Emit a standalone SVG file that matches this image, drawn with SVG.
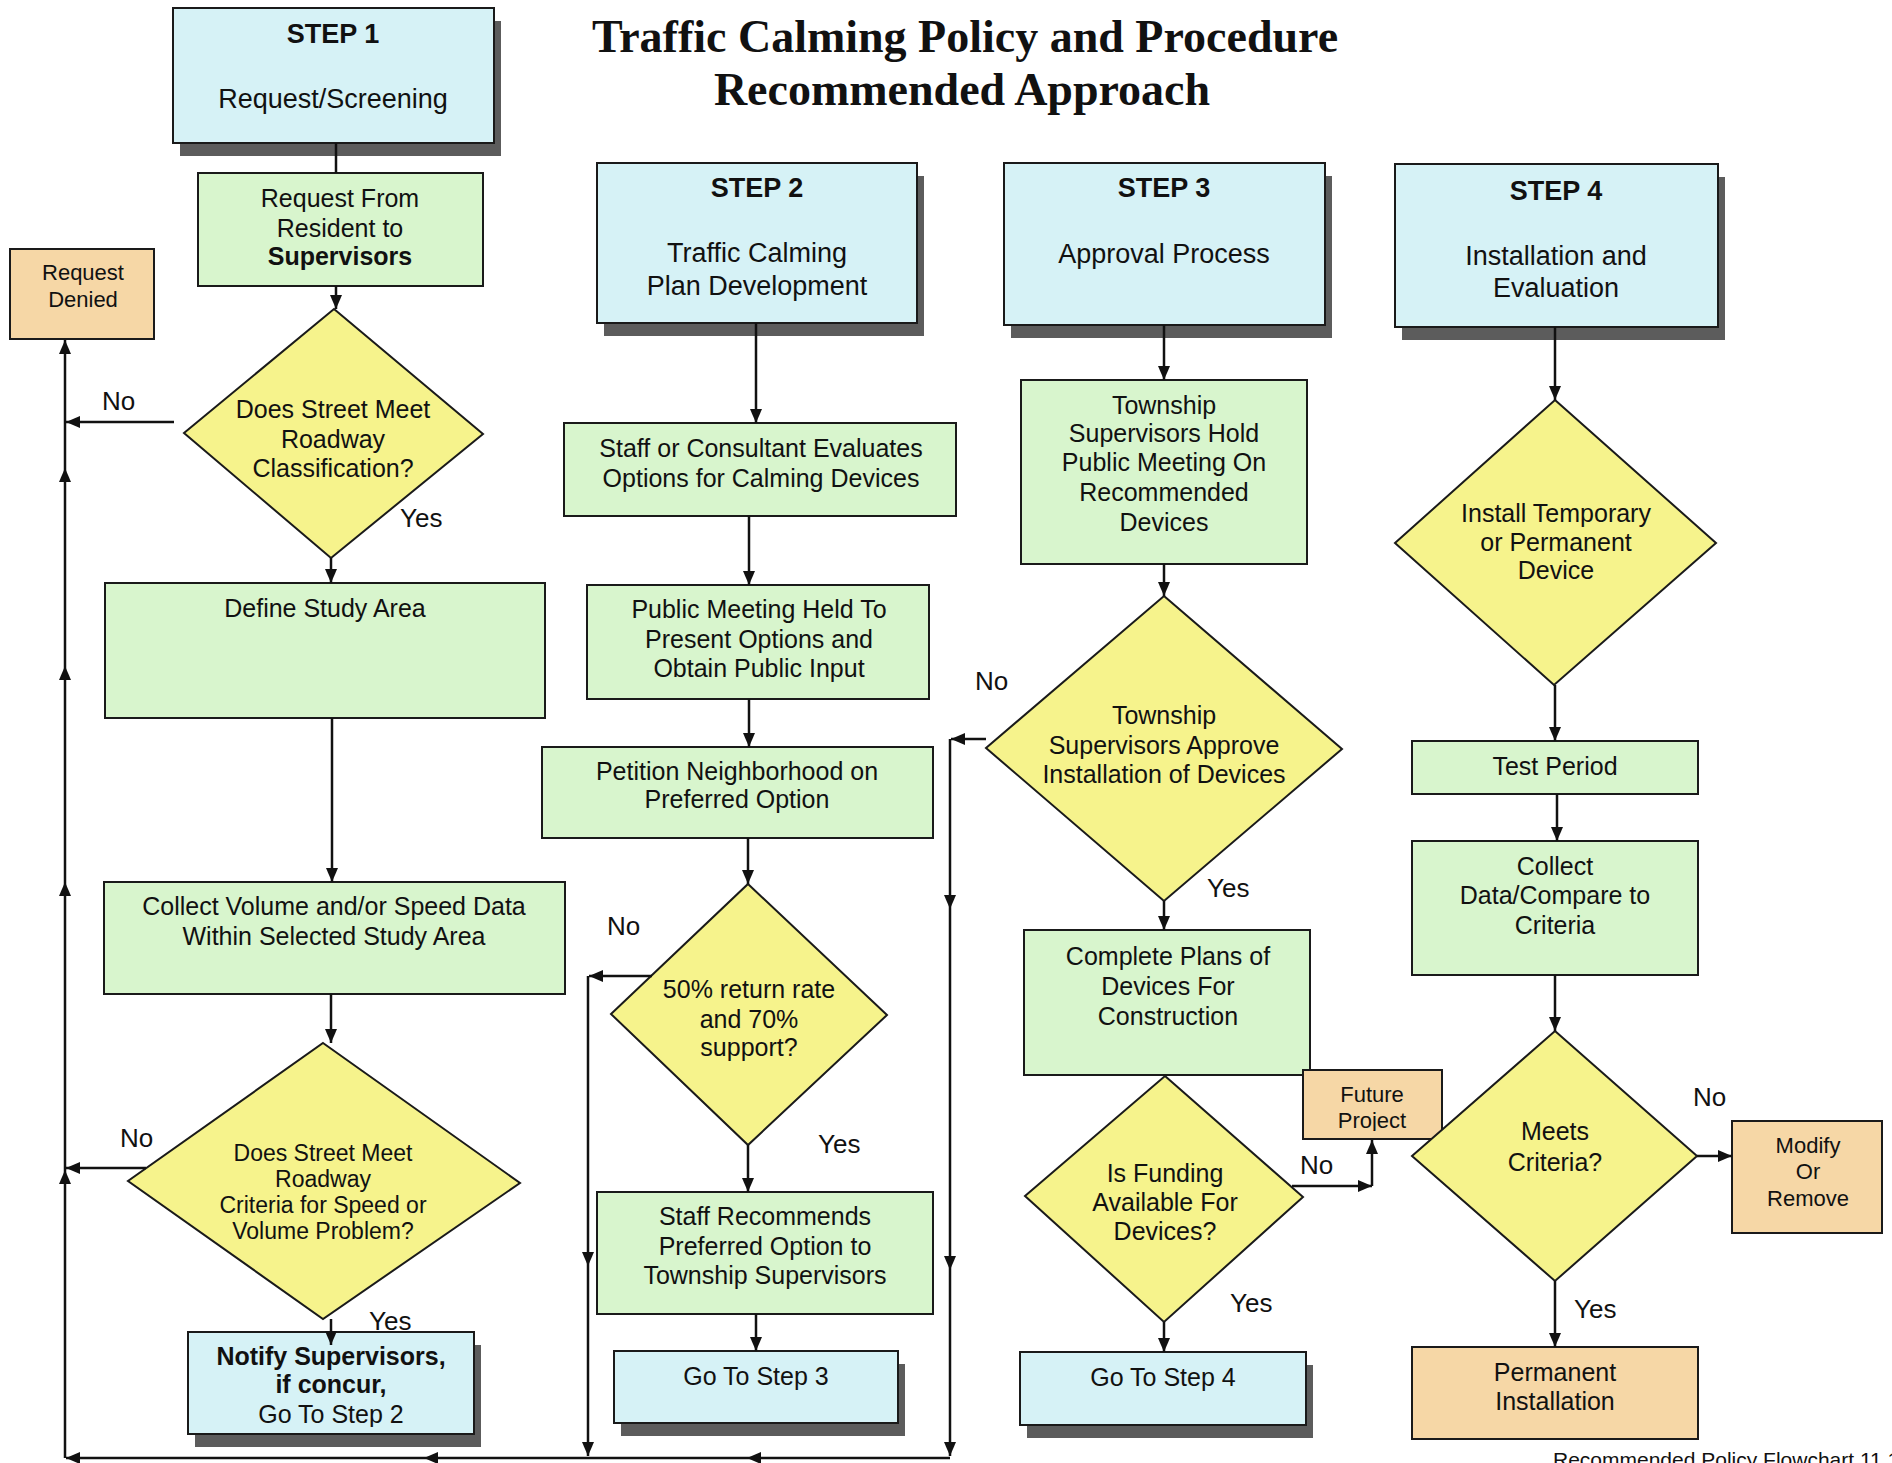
<svg xmlns="http://www.w3.org/2000/svg" width="1892" height="1463" viewBox="0 0 1892 1463">
<style>
text{font-family:"Liberation Sans",Arial,sans-serif;fill:#111;text-anchor:middle}
.t{font-size:25px}
.s{font-size:27px}
.b{font-weight:bold}
.sm{font-size:22px}
.d2{font-size:23px}
.lab{font-size:26px;text-anchor:start}
.title{font-family:"Liberation Serif","Times New Roman",serif;font-weight:bold;font-size:46px}
.step{fill:#d6f2f6;stroke:#1a1a1a;stroke-width:2}
.grn{fill:#d8f5cd;stroke:#1a1a1a;stroke-width:2}
.org{fill:#f6d7a6;stroke:#1a1a1a;stroke-width:2}
.dia{fill:#f6f38c;stroke:#1a1a1a;stroke-width:2}
.sh{fill:#5c5c5c}
.c{fill:none;stroke:#111;stroke-width:2.5}
.ca{fill:none;stroke:#111;stroke-width:2.5;marker-end:url(#ah)}
</style>
<defs>
<marker id="ah" viewBox="0 0 14 12" refX="14" refY="6" markerWidth="14" markerHeight="12" markerUnits="userSpaceOnUse" orient="auto">
<path d="M0,0 L14,6 L0,12 z" fill="#111"/>
</marker>
<clipPath id="clipNotify"><rect x="180" y="1330" width="300" height="97"/></clipPath>
<clipPath id="clipFuture"><rect x="1300" y="1068" width="145" height="63"/></clipPath>
</defs>
<rect width="1892" height="1463" fill="#ffffff"/>

<g id="title">
<text class="title" x="965" y="52">Traffic Calming Policy and Procedure</text>
<text class="title" x="962" y="105">Recommended Approach</text>
</g>

<g id="step1">
<rect class="sh" x="180" y="21" width="321" height="135"/>
<rect class="step" x="173" y="8" width="321" height="135"/>
<text class="s b" x="333" y="43">STEP 1</text>
<text class="s" x="333" y="108">Request/Screening</text>
</g>
<g id="request-from">
<rect class="grn" x="198" y="173" width="285" height="113"/>
<text class="t" x="340" y="207">Request From</text>
<text class="t" x="340" y="237">Resident to</text>
<text class="t b" x="340" y="265">Supervisors</text>
</g>
<g id="request-denied">
<rect class="org" x="10" y="249" width="144" height="90"/>
<text class="sm" x="83" y="280">Request</text>
<text class="sm" x="83" y="307">Denied</text>
</g>
<g id="d-classification">
<polygon class="dia" points="334,309 483,434 331,558 184,433"/>
<text class="t" x="333" y="418">Does Street Meet</text>
<text class="t" x="333" y="448">Roadway</text>
<text class="t" x="333" y="477">Classification?</text>
</g>
<g id="define-study">
<rect class="grn" x="105" y="583" width="440" height="135"/>
<text class="t" x="325" y="617">Define Study Area</text>
</g>
<g id="collect-volume">
<rect class="grn" x="104" y="882" width="461" height="112"/>
<text class="t" x="334" y="915">Collect Volume and/or Speed Data</text>
<text class="t" x="334" y="945">Within Selected Study Area</text>
</g>
<g id="d-criteria">
<polygon class="dia" points="323,1043 520,1183 323,1319 128,1181"/>
<text class="d2" x="323" y="1161">Does Street Meet</text>
<text class="d2" x="323" y="1187">Roadway</text>
<text class="d2" x="323" y="1213">Criteria for Speed or</text>
<text class="d2" x="323" y="1239">Volume Problem?</text>
</g>
<g id="notify">
<rect class="sh" x="195" y="1345" width="286" height="102"/>
<rect class="step" x="188" y="1332" width="286" height="102"/>
<g clip-path="url(#clipNotify)">
<text class="t b" x="331" y="1365">Notify Supervisors,</text>
<text class="t b" x="331" y="1393">if concur,</text>
<text class="t" x="331" y="1423">Go To Step 2</text>
</g>
</g>

<g id="step2">
<rect class="sh" x="604" y="176" width="320" height="160"/>
<rect class="step" x="597" y="163" width="320" height="160"/>
<text class="s b" x="757" y="197">STEP 2</text>
<text class="s" x="757" y="262">Traffic Calming</text>
<text class="s" x="757" y="295">Plan Development</text>
</g>
<g id="staff-evaluates">
<rect class="grn" x="564" y="423" width="392" height="93"/>
<text class="t" x="761" y="457">Staff or Consultant Evaluates</text>
<text class="t" x="761" y="487">Options for Calming Devices</text>
</g>
<g id="public-meeting">
<rect class="grn" x="587" y="585" width="342" height="114"/>
<text class="t" x="759" y="618">Public Meeting Held To</text>
<text class="t" x="759" y="648">Present Options and</text>
<text class="t" x="759" y="677">Obtain Public Input</text>
</g>
<g id="petition">
<rect class="grn" x="542" y="747" width="391" height="91"/>
<text class="t" x="737" y="780">Petition Neighborhood on</text>
<text class="t" x="737" y="808">Preferred Option</text>
</g>
<g id="d-return-rate">
<polygon class="dia" points="748,884 887,1015 748,1145 611,1014"/>
<text class="t" x="749" y="998">50% return rate</text>
<text class="t" x="749" y="1028">and 70%</text>
<text class="t" x="749" y="1056">support?</text>
</g>
<g id="staff-recommends">
<rect class="grn" x="597" y="1192" width="336" height="122"/>
<text class="t" x="765" y="1225">Staff Recommends</text>
<text class="t" x="765" y="1255">Preferred Option to</text>
<text class="t" x="765" y="1284">Township Supervisors</text>
</g>
<g id="goto-step3">
<rect class="sh" x="621" y="1364" width="284" height="72"/>
<rect class="step" x="614" y="1351" width="284" height="72"/>
<text class="t" x="756" y="1385">Go To Step 3</text>
</g>

<g id="step3">
<rect class="sh" x="1011" y="176" width="321" height="162"/>
<rect class="step" x="1004" y="163" width="321" height="162"/>
<text class="s b" x="1164" y="197">STEP 3</text>
<text class="s" x="1164" y="263">Approval Process</text>
</g>
<g id="township-meeting">
<rect class="grn" x="1021" y="380" width="286" height="184"/>
<text class="t" x="1164" y="414">Township</text>
<text class="t" x="1164" y="442">Supervisors Hold</text>
<text class="t" x="1164" y="471">Public Meeting On</text>
<text class="t" x="1164" y="501">Recommended</text>
<text class="t" x="1164" y="531">Devices</text>
</g>
<g id="d-approve">
<polygon class="dia" points="1164,596 1342,749 1164,901 986,748"/>
<text class="t" x="1164" y="724">Township</text>
<text class="t" x="1164" y="754">Supervisors Approve</text>
<text class="t" x="1164" y="783">Installation of Devices</text>
</g>
<g id="complete-plans">
<rect class="grn" x="1024" y="930" width="286" height="145"/>
<text class="t" x="1168" y="965">Complete Plans of</text>
<text class="t" x="1168" y="995">Devices For</text>
<text class="t" x="1168" y="1025">Construction</text>
</g>
<g id="future-project">
<rect class="org" x="1303" y="1070" width="139" height="69"/>
<g clip-path="url(#clipFuture)">
<text class="sm" x="1372" y="1102">Future</text>
<text class="sm" x="1372" y="1128">Project</text>
</g>
</g>
<g id="d-funding">
<polygon class="dia" points="1165,1076 1303,1197 1164,1322 1025,1196"/>
<text class="t" x="1165" y="1182">Is Funding</text>
<text class="t" x="1165" y="1211">Available For</text>
<text class="t" x="1165" y="1240">Devices?</text>
</g>
<g id="goto-step4">
<rect class="sh" x="1027" y="1365" width="286" height="73"/>
<rect class="step" x="1020" y="1352" width="286" height="73"/>
<text class="t" x="1163" y="1386">Go To Step 4</text>
</g>

<g id="step4">
<rect class="sh" x="1402" y="177" width="323" height="163"/>
<rect class="step" x="1395" y="164" width="323" height="163"/>
<text class="s b" x="1556" y="200">STEP 4</text>
<text class="s" x="1556" y="265">Installation and</text>
<text class="s" x="1556" y="297">Evaluation</text>
</g>
<g id="d-install">
<polygon class="dia" points="1555,400 1716,543 1554,685 1395,543"/>
<text class="t" x="1556" y="522">Install Temporary</text>
<text class="t" x="1556" y="551">or Permanent</text>
<text class="t" x="1556" y="579">Device</text>
</g>
<g id="test-period">
<rect class="grn" x="1412" y="741" width="286" height="53"/>
<text class="t" x="1555" y="775">Test Period</text>
</g>
<g id="collect-data">
<rect class="grn" x="1412" y="841" width="286" height="134"/>
<text class="t" x="1555" y="875">Collect</text>
<text class="t" x="1555" y="904">Data/Compare to</text>
<text class="t" x="1555" y="934">Criteria</text>
</g>
<g id="d-meets">
<polygon class="dia" points="1555,1031 1697,1156 1555,1281 1412,1156"/>
<text class="t" x="1555" y="1140">Meets</text>
<text class="t" x="1555" y="1171">Criteria?</text>
</g>
<g id="modify">
<rect class="org" x="1732" y="1121" width="150" height="112"/>
<text class="sm" x="1808" y="1153">Modify</text>
<text class="sm" x="1808" y="1179">Or</text>
<text class="sm" x="1808" y="1206">Remove</text>
</g>
<g id="permanent">
<rect class="org" x="1412" y="1347" width="286" height="92"/>
<text class="t" x="1555" y="1381">Permanent</text>
<text class="t" x="1555" y="1410">Installation</text>
</g>

<g id="connectors">
<path class="c" d="M336,143 V173"/>
<path class="ca" d="M336,286 V309"/>
<path class="ca" d="M331,558 V583"/>
<path class="ca" d="M332,718 V882"/>
<path class="ca" d="M331,994 V1043"/>
<path class="ca" d="M331,1319 V1345"/>
<path class="ca" d="M174,422 H66"/>
<path class="ca" d="M146,1168 H66"/>
<path class="ca" d="M65,1458 V1170"/>
<path class="ca" d="M65,1170 V882"/>
<path class="ca" d="M65,882 V666"/>
<path class="ca" d="M65,666 V468"/>
<path class="ca" d="M65,468 V340"/>
<path class="ca" d="M950,1458 H747"/>
<path class="ca" d="M747,1458 H424"/>
<path class="ca" d="M424,1458 H66"/>
<path class="ca" d="M756,323 V423"/>
<path class="ca" d="M749,516 V585"/>
<path class="ca" d="M749,699 V747"/>
<path class="ca" d="M748,838 V884"/>
<path class="ca" d="M748,1145 V1192"/>
<path class="ca" d="M756,1314 V1351"/>
<path class="ca" d="M652,976 H589"/>
<path class="ca" d="M588,976 V1266"/>
<path class="ca" d="M588,1266 V1456"/>
<path class="ca" d="M1164,325 V380"/>
<path class="ca" d="M1164,564 V596"/>
<path class="ca" d="M1164,901 V930"/>
<path class="ca" d="M1164,1322 V1352"/>
<path class="ca" d="M986,739 H951"/>
<path class="ca" d="M950,739 V909"/>
<path class="ca" d="M950,909 V1270"/>
<path class="ca" d="M950,1270 V1456"/>
<path class="ca" d="M1292,1186 H1372"/>
<path class="ca" d="M1372,1186 V1140"/>
<path class="ca" d="M1555,327 V400"/>
<path class="ca" d="M1555,685 V741"/>
<path class="ca" d="M1557,794 V841"/>
<path class="ca" d="M1555,975 V1031"/>
<path class="ca" d="M1555,1281 V1347"/>
<path class="ca" d="M1697,1156 H1732"/>
</g>

<g id="labels">
<text class="lab" x="102" y="410">No</text>
<text class="lab" x="400" y="527">Yes</text>
<text class="lab" x="120" y="1147">No</text>
<text class="lab" x="369" y="1330">Yes</text>
<text class="lab" x="607" y="935">No</text>
<text class="lab" x="818" y="1153">Yes</text>
<text class="lab" x="975" y="690">No</text>
<text class="lab" x="1207" y="897">Yes</text>
<text class="lab" x="1300" y="1174">No</text>
<text class="lab" x="1230" y="1312">Yes</text>
<text class="lab" x="1693" y="1106">No</text>
<text class="lab" x="1574" y="1318">Yes</text>
</g>
<text x="1553" y="1467" style="font-size:21px;text-anchor:start">Recommended Policy Flowchart 11.1</text>
</svg>
